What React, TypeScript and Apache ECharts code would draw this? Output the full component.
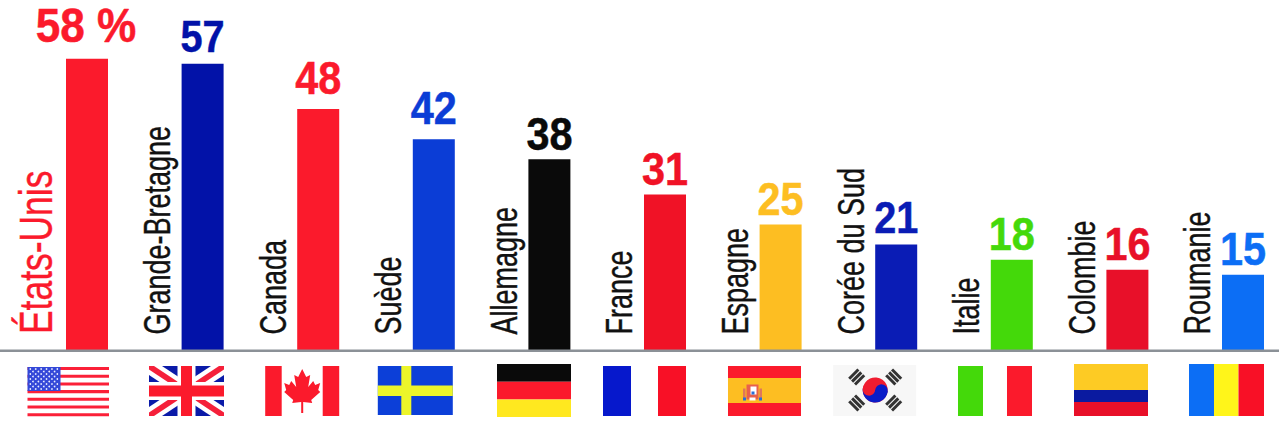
import React, { useEffect, useRef } from "react";
import * as echarts from "echarts";

const countries = ["États-Unis", "Grande-Bretagne", "Canada", "Suède", "Allemagne", "France", "Espagne", "Corée du Sud", "Italie", "Colombie", "Roumanie"];
const values = [58, 57, 48, 42, 38, 31, 25, 21, 18, 16, 15];
const valueLabels = ["58 %", "57", "48", "42", "38", "31", "25", "21", "18", "16", "15"];
const barColors = ["#fb1a2c", "#0212a8", "#fb1a2c", "#0b3dd6", "#0a0a0a", "#f01226", "#fdbe22", "#0a1cb5", "#44d90a", "#e81029", "#0c6ef5"];

const FONT = "'Liberation Sans', Arial, sans-serif";
const RED = "#fb1a2c";

const R = (x: number, y: number, w: number, h: number, fill: string) => ({ type: "rect", shape: { x, y, width: w, height: h }, style: { fill } });
const C = (cx: number, cy: number, r: number, fill: string) => ({ type: "circle", shape: { cx, cy, r }, style: { fill } });
const P = (points: number[][], fill: string) => ({ type: "polygon", shape: { points }, style: { fill } });

function usFlag() {
  const out: any[] = [];
  const L = -59.5, T = 17, W = 81.5, H = 50, s = H / 13;
  for (let i = 0; i < 13; i += 2) out.push(R(L, T + i * s, W, s * 0.8, "#fb2038"));
  out.push(R(L, T, 33, 24, "#3448d8"));
  for (let r = 0; r < 9; r++) {
    const n = r % 2 ? 5 : 6;
    for (let c = 0; c < n; c++) out.push(C(L + (r % 2 ? 5.5 : 2.8) + c * 5.4, T + 2 + r * 2.5, 0.85, "#e8ecff"));
  }
  return out;
}
function ukFlag() {
  const L = -53.6, T = 16, W = 75, H = 50, x1 = L + W, y1 = T + H;
  const band = (a: number, b: number, fill: string) => [
    P([[L, T], [L + a, T], [x1, y1 - b], [x1, y1], [x1 - a, y1], [L, T + b]], fill),
    P([[x1, T], [x1 - a, T], [L, y1 - b], [L, y1], [L + a, y1], [x1, T + b]], fill),
  ];
  const cx = L + W / 2, cy = T + H / 2;
  return [
    R(L, T, W, H, "#0a1aa8"),
    ...band(13, 9, "#ffffff"),
    ...band(5, 3.4, "#f5203a"),
    R(cx - 9, T, 18, H, "#ffffff"), R(L, cy - 9, W, 18, "#ffffff"),
    R(cx - 5.5, T, 11, H, "#fb1a2c"), R(L, cy - 5.5, W, 11, "#fb1a2c"),
  ];
}
function caFlag() {
  const L = -53, T = 16, W = 74, H = 50;
  const cx = L + W / 2, top = T + 3;
  const half = [[0, 0], [4, 8], [8, 6], [6, 18], [11, 12], [13, 16], [18, 14], [16, 21], [18, 23], [9, 31], [10, 34], [1, 33], [1, 44]];
  const pts = [...half, ...half.slice().reverse().map(([a, b]) => [-a, b])].map(([a, b]) => [cx + a, top + b]);
  return [R(L, T, 16.5, H, RED), R(L + W - 16.5, T, 16.5, H, RED), P(pts, RED)];
}
function seFlag() {
  const L = -56, T = 16, W = 75, H = 49;
  return [R(L, T, W, H, "#0c3fd8"), R(L, T + 19.5, W, 10.5, "#ecf52a"), R(L + 23.5, T, 10, H, "#ecf52a")];
}
function deFlag() {
  const L = -52.4, T = 14, W = 74;
  return [R(L, T, W, 17.7, "#0a0a0a"), R(L, T + 17.7, W, 17.7, "#fb1a2c"), R(L, T + 35.4, W, 17.6, "#ffe81f")];
}
function frFlag() {
  return [R(-62, 16, 28, 50, "#0618cc"), R(-7, 16, 28, 50, "#f81026")];
}
function esFlag() {
  const L = -52.6, W = 73;
  const cx = L + 24.5, cy = 42.5;
  return [
    R(L, 16, W, 50, RED), R(L, 28, W, 25, "#fdbe22"),
    R(cx - 6, cy - 8, 12, 15, "#e8604c"), R(cx - 2, cy - 6, 6, 8, "#ffffff"),
    R(cx - 9.5, cy - 4, 2.5, 11, "#e0775a"), R(cx + 7, cy - 4, 2.5, 11, "#e0775a"),
    R(cx - 9.5, cy + 5, 3, 3, "#2a6fd8"), R(cx + 6.5, cy + 5, 3, 3, "#2a6fd8"), R(cx - 1, cy - 1, 3, 3, "#2a6fd8"),
    R(cx - 3, cy + 5, 6, 3, "#ffffff"),
  ];
}
function trigram(dx: number, dy: number, rotation: number) {
  return {
    type: "group", x: dx, y: dy, rotation,
    children: [R(-6.5, -5.6, 13, 3, "#333333"), R(-6.5, -1.5, 13, 3, "#333333"), R(-6.5, 2.6, 13, 3, "#333333")],
  };
}
function krFlag() {
  const cx = -21, cy = 40, r = 12.5;
  return [
    R(-63, 15, 83, 51, "#f7f7f7"),
    trigram(cx - 18.5, cy - 13, Math.PI / 4), trigram(cx + 18.5, cy - 13, -Math.PI / 4),
    trigram(cx - 18.5, cy + 13, -Math.PI / 4), trigram(cx + 18.5, cy + 13, Math.PI / 4),
    {
      type: "group", x: cx, y: cy, rotation: -0.1,
      children: [
        C(0, 0, r, "#f01c30"),
        { type: "sector", shape: { cx: 0, cy: 0, r, r0: 0, startAngle: 0, endAngle: Math.PI, clockwise: true }, style: { fill: "#0a1cc8" } },
        C(-r / 2, 0, r / 2, "#f01c30"),
        C(r / 2, 0, r / 2, "#0a1cc8"),
      ],
    },
  ];
}
function itFlag() {
  return [R(-53.8, 16, 25, 50, "#44d90a"), R(-4.8, 16, 25, 50, RED)];
}
function coFlag() {
  const L = -53.4, W = 74;
  return [R(L, 14, W, 26, "#fdcb24"), R(L, 40, W, 12, "#0a1aa0"), R(L, 52, W, 14, "#e81029")];
}
function roFlag() {
  return [R(-54, 14, 25, 52, "#0c6ef5"), R(-29, 14, 24.5, 52, "#fff51a"), R(-4.5, 14, 25.5, 52, "#f81026")];
}
const flagDrawers = [usFlag, ukFlag, caFlag, seFlag, deFlag, frFlag, esFlag, krFlag, itFlag, coFlag, roFlag];

export default function App() {
  const ref = useRef<HTMLDivElement>(null);
  useEffect(() => {
    const chart = echarts.init(ref.current!, undefined, { renderer: "svg" });
    chart.setOption({
      animation: false,
      backgroundColor: "#ffffff",
      grid: { left: 29.2, width: 1271.6, top: 48.8, height: 301.2 },
      xAxis: { type: "category", data: countries, axisLine: { show: false }, axisTick: { show: false }, axisLabel: { show: false }, splitLine: { show: false } },
      yAxis: { type: "value", min: 0, max: 60, show: false, splitLine: { show: false } },
      graphic: [{ type: "rect", shape: { x: 0, y: 349.5, width: 1279, height: 2.5 }, style: { fill: "#8b9197" }, z: 20 }],
      series: [
        {
          type: "bar",
          barWidth: 42,
          data: values.map((v, i) => ({ value: v, itemStyle: { color: barColors[i] } })),
        },
        {
          type: "custom",
          data: countries.map((_, i) => [i, values[i]]),
          renderItem: (_p: any, api: any) => {
            const i = api.value(0);
            const [x, y] = api.coord([i, 0]);
            const [, top] = api.coord([i, api.value(1)]);
            const first = i === 0;
            const small = i === 1 || i === 7;
            const raised = i === 2 || i === 3;
            const nameFill = first ? RED : "#111111";
            return {
              type: "group",
              x,
              y,
              children: [
                {
                  type: "text",
                  x: first ? -51 : -45,
                  y: first ? -16 : -15.5,
                  rotation: Math.PI / 2,
                  scaleX: first ? 0.77 : 0.75,
                  style: {
                    text: countries[i],
                    fill: nameFill,
                    stroke: nameFill,
                    lineWidth: 0.4,
                    fontFamily: FONT,
                    fontSize: first ? 46 : 36,
                    align: "left",
                    verticalAlign: "middle",
                  },
                },
                {
                  type: "text",
                  x: first ? -1 : 0,
                  y: top - y - (first ? 33 : small ? 27 : raised ? 31 : 26),
                  scaleX: first ? 0.92 : 0.9,
                  style: {
                    text: valueLabels[i],
                    fill: barColors[i],
                    stroke: barColors[i],
                    lineWidth: 0.5,
                    fontFamily: FONT,
                    fontWeight: "bold",
                    fontSize: first ? 48 : small ? 44 : 46,
                    align: "center",
                    verticalAlign: "middle",
                  },
                },
                ...flagDrawers[i](),
              ],
            };
          },
        },
      ],
    });
    return () => chart.dispose();
  }, []);
  return (
    <div style={{ position: "absolute", left: 0, top: 0, width: 1279, height: 441, overflow: "hidden" }}>
      <div ref={ref} style={{ width: 1340, height: 441 }} />
    </div>
  );
}
